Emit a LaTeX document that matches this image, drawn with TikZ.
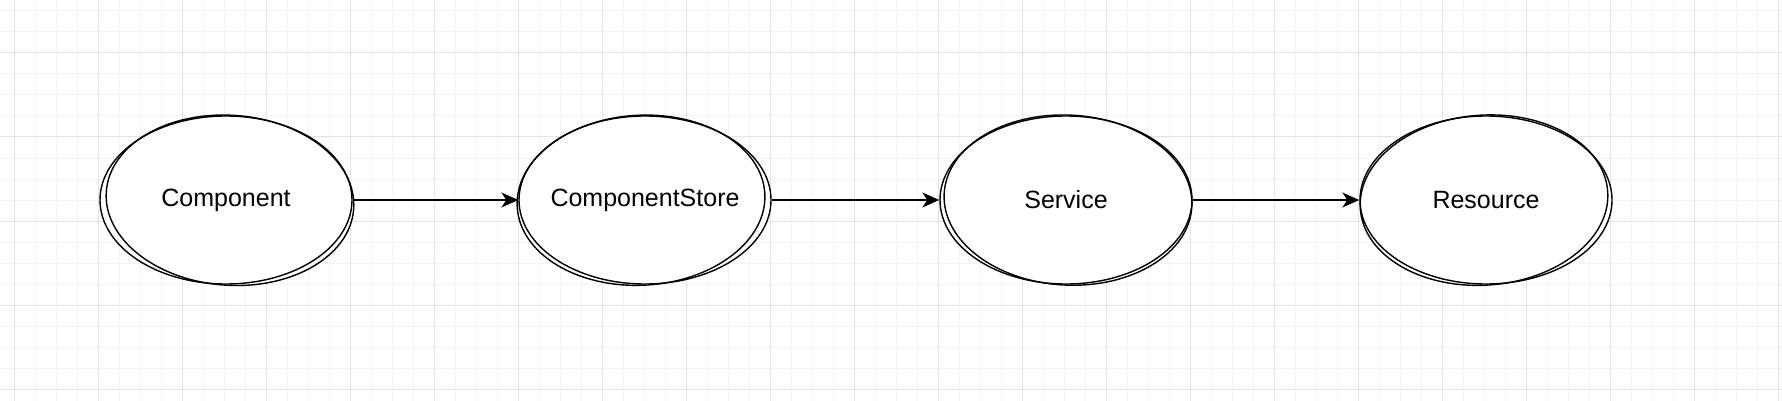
\documentclass[tikz,border=0pt]{standalone}
\usepackage{fontspec}
\setmainfont{Liberation Sans}
\usetikzlibrary{shapes.geometric}
\usetikzlibrary{arrows.meta}

\definecolor{gridminor}{HTML}{F4F4F4}
\definecolor{gridmajor}{HTML}{E4E4E4}

\begin{document}
\begin{tikzpicture}[
            x=0.5pt, y=-0.5pt,
            blob/.style={ellipse, draw, line width=.7pt, fill=white, inner sep=0pt,
                minimum width=126pt, minimum height=84pt,
                font=\fontsize{12.5}{15}\selectfont},
            sketch/.style={line width=.7pt},
            arrow/.style={-{Stealth[length=8.5pt, width=7.5pt, inset=2.5pt]}, line width=.7pt},
        ]
            \useasboundingbox (0, 0) rectangle (1782, 401);
            \fill[white] (0, 0) rectangle (1782, 401);
            % grid
            \foreach \x in {14, 35, ..., 1782}
                \draw[gridminor, line width=.5pt] (\x, 0) -- (\x, 401);
            \foreach \y in {11, 32, ..., 401}
                \draw[gridminor, line width=.5pt] (0, \y) -- (1782, \y);
            \foreach \x in {14, 98, ..., 1782}
                \draw[gridmajor, line width=.5pt] (\x, 0) -- (\x, 401);
            \foreach \y in {53, 137, ..., 401}
                \draw[gridmajor, line width=.5pt] (0, \y) -- (1782, \y);

            \node[blob] (comp) at (226, 200) {Component};
            \node[blob] (store) at (645, 200) {\makebox[0pt]{ComponentStore}};
            \node[blob] (service) at (1066, 200) {Service};
            \node[blob] (resource) at (1486, 200) {Resource};
            % second pencil stroke round each blob
            \foreach \n/\r/\dx in {comp/-4/2, store/3/-2, service/-3/1, resource/4/-1}
                \draw[sketch, rotate around={\r:(\n.center)}]
                    ([xshift=\dx pt]\n.center) ellipse [x radius=62pt, y radius=42.5pt];

            \draw[arrow] (comp) -- (store);
            \draw[arrow] (store) -- (service);
            \draw[arrow] (service) -- (resource);
        \end{tikzpicture}
\end{document}
